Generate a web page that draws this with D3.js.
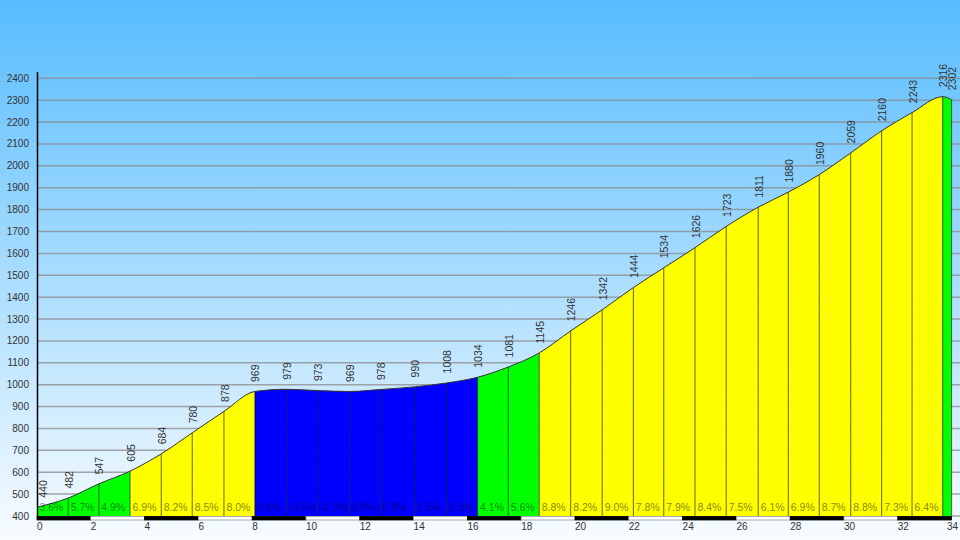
<!DOCTYPE html>
<html>
<head>
	<meta charset="utf-8" />
	<title>profile</title>
	<script src="https://cdn.jsdelivr.net/npm/d3@7/dist/d3.min.js"></script>
	<style>
	body { margin: 0; padding: 0; overflow: hidden; }
	text { font-family: "Liberation Sans", Arial, sans-serif; }
	</style>
</head>
<body>

<div id="chart"></div>

<script>

// km marks of each segment boundary and elevation there (m)
const km = [0, 1.16, 2.30, 3.46, 4.62, 5.77, 6.95, 8.10, 9.27, 10.43, 11.61, 12.76, 14.03, 15.23, 16.38,
	17.52, 18.67, 19.84, 21.01, 22.17, 23.30, 24.46, 25.62, 26.81, 27.93, 29.08, 30.25, 31.40, 32.53, 33.67, 34.0];
const elev = [440, 482, 547, 605, 684, 780, 878, 969, 979, 973, 969, 978, 990, 1008, 1034,
	1081, 1145, 1246, 1342, 1444, 1534, 1626, 1723, 1811, 1880, 1960, 2059, 2160, 2243, 2316, 2302];
// gradient of each segment (%)
const grades = [3.6, 5.7, 4.9, 6.9, 8.2, 8.5, 8.0, 0.8, -0.5, -0.3, 0.8, 0.9, 1.5, 2.3, 4.1,
	5.6, 8.8, 8.2, 9.0, 7.8, 7.9, 8.4, 7.5, 6.1, 6.9, 8.7, 8.8, 7.3, 6.4, -4.2];

const yTicks = d3.range(400, 2401, 100);
const xTicks = d3.range(0, 35, 2);

let width = 960, height = 540;

let svg = d3.select("#chart")
	.append("svg")
	.attr("width", width)
	.attr("height", height);

// sky background
let defs = svg.append("defs");
let grad = defs.append("linearGradient")
	.attr("id", "sky")
	.attr("x1", 0).attr("y1", 0)
	.attr("x2", 0).attr("y2", 1);
grad.append("stop").attr("offset", "0%").attr("stop-color", "#57bcff");
grad.append("stop").attr("offset", "100%").attr("stop-color", "#f8fcff");

svg.append("rect")
	.attr("width", width)
	.attr("height", height)
	.attr("fill", "url(#sky)");

let x = d3.scaleLinear().domain([0, 34]).range([37, 951.6]);
let y = d3.scaleLinear().domain([400, 2400]).range([516, 78.3]);

// colour by steepness
let colour = d3.scaleThreshold()
	.domain([3, 6, 9.05])
	.range(["#0000ff", "#00ff00", "#ffff00", "#ff0000"]);

// grid
svg.append("g")
	.selectAll("line")
	.data(yTicks)
	.enter().append("line")
	.attr("x1", x(0))
	.attr("x2", width)
	.attr("y1", d => y(d))
	.attr("y2", d => y(d))
	.attr("stroke", "#8a8a8a")
	.attr("stroke-opacity", 0.75)
	.attr("stroke-width", 1.5);

let pts = km.map((k, i) => ({km: k, e: elev[i]}));

let area = d3.area()
	.x(d => x(d.km))
	.y0(y(400))
	.y1(d => y(d.e))
	.curve(d3.curveMonotoneX);

let line = d3.line()
	.x(d => x(d.km))
	.y(d => y(d.e))
	.curve(d3.curveMonotoneX);

let segs = grades.map((g, i) => ({g: g, k0: km[i], k1: km[i + 1]}));

// one clipped copy of the area per segment
let clips = defs.selectAll("clipPath")
	.data(segs)
	.enter().append("clipPath")
	.attr("id", (d, i) => "seg" + i);
clips.append("rect")
	.attr("x", d => x(d.k0))
	.attr("width", d => x(d.k1) - x(d.k0))
	.attr("y", 0)
	.attr("height", y(400));

let profile = svg.append("g");

profile.selectAll("path.seg")
	.data(segs)
	.enter().append("path")
	.attr("class", "seg")
	.attr("clip-path", (d, i) => "url(#seg" + i + ")")
	.attr("d", area(pts))
	.attr("fill", d => colour(Math.abs(d.g)));

// segment separators
profile.selectAll("line.sep")
	.data(pts.slice(1))
	.enter().append("line")
	.attr("class", "sep")
	.attr("x1", d => x(d.km))
	.attr("x2", d => x(d.km))
	.attr("y1", y(400))
	.attr("y2", d => y(d.e))
	.attr("stroke", "#000")
	.attr("stroke-opacity", 0.6)
	.attr("stroke-width", 1);

profile.append("path")
	.attr("d", line(pts))
	.attr("fill", "none")
	.attr("stroke", "#333")
	.attr("stroke-width", 1);

// gradient labels
svg.append("g")
	.selectAll("text")
	.data(segs.filter(d => x(d.k1) - x(d.k0) > 20))
	.enter().append("text")
	.attr("x", d => x(d.k0) + 2.5)
	.attr("y", 510.5)
	.attr("font-size", "10.5px")
	.attr("fill", "#000")
	.attr("fill-opacity", 0.5)
	.text(d => d.g.toFixed(1) + "%");

// elevation labels, rotated
svg.append("g")
	.selectAll("text")
	.data(pts)
	.enter().append("text")
	.attr("transform", d => "translate(" + (Math.max(x(d.km) + 1, 43) + 3.6) + "," + (y(d.e) - 9.5) + ") rotate(-90)")
	.attr("font-size", "10.5px")
	.attr("fill", "#333")
	.text(d => d.e);

// km bar
svg.append("g")
	.selectAll("rect")
	.data(xTicks.slice(0, -1))
	.enter().append("rect")
	.attr("x", d => x(d))
	.attr("width", d => x(d + 2) - x(d))
	.attr("y", 516.5)
	.attr("height", 3.5)
	.attr("fill", (d, i) => i % 2 ? "#fff" : "#000")
	.attr("stroke", (d, i) => i % 2 ? "#999" : "#000")
	.attr("stroke-width", 0.8);

// axes
svg.append("line")
	.attr("x1", 37.5).attr("x2", 37.5)
	.attr("y1", 72).attr("y2", 517)
	.attr("stroke", "#000")
	.attr("stroke-width", 1.5);

svg.append("g")
	.selectAll("text")
	.data(yTicks)
	.enter().append("text")
	.attr("x", 29)
	.attr("y", d => y(d))
	.attr("dy", "0.35em")
	.attr("text-anchor", "end")
	.attr("font-size", "10px")
	.attr("fill", "#333")
	.text(d => d);

svg.append("g")
	.selectAll("text")
	.data(xTicks)
	.enter().append("text")
	.attr("x", d => Math.min(x(d), 947))
	.attr("y", 529.5)
	.attr("font-size", "10px")
	.attr("fill", "#333")
	.text(d => d);

</script>
</body>
</html>
